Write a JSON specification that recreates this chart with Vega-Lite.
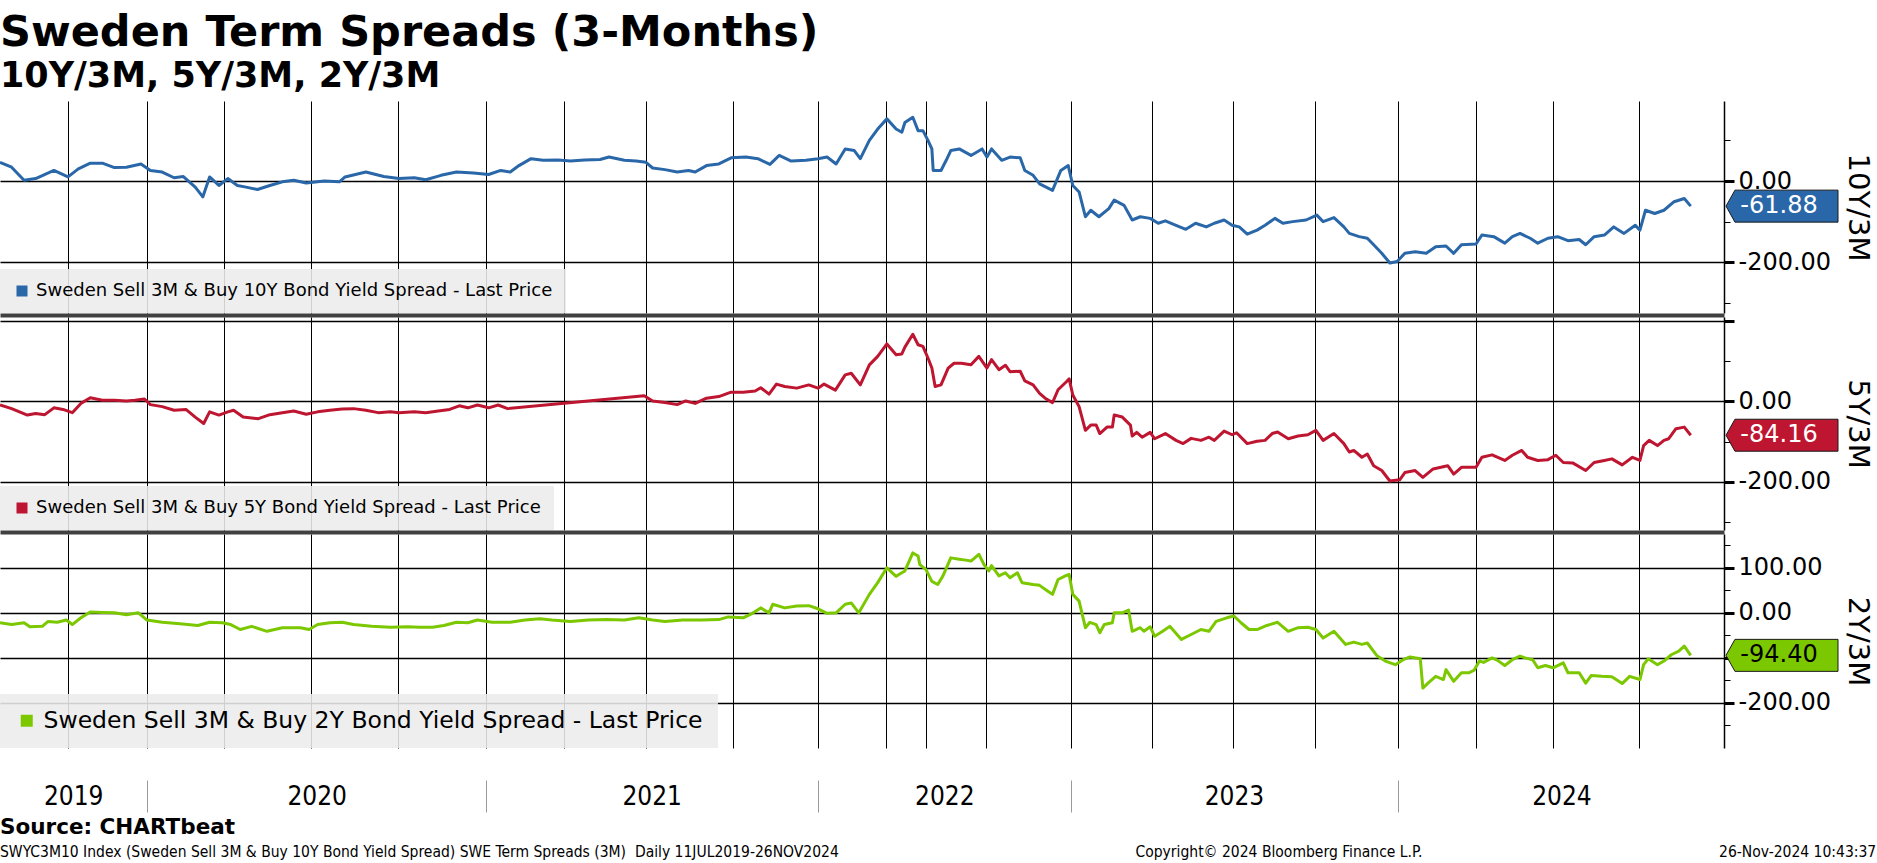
{
"$schema": "https://vega.github.io/schema/vega-lite/v6.json",
"background": "white",
"padding": {"top": 12, "left": 0, "right": 0, "bottom": 0},
"title": {"text": "Sweden Term Spreads (3-Months)", "subtitle": "10Y/3M, 5Y/3M, 2Y/3M", "anchor": "start", "frame": "group", "font": "DejaVu Sans", "fontSize": 43, "fontWeight": "bold", "color": "#000", "subtitleFont": "DejaVu Sans", "subtitleFontSize": 35, "subtitleFontWeight": "bold", "subtitleColor": "#000", "subtitlePadding": 4, "offset": 7},
"datasets": {
"y10": [{"date":"2019-07-11","value":46},{"date":"2019-07-25","value":34},{"date":"2019-08-09","value":2},{"date":"2019-08-23","value":6},{"date":"2019-09-14","value":26},{"date":"2019-10-01","value":10},{"date":"2019-10-13","value":30},{"date":"2019-10-27","value":44},{"date":"2019-11-10","value":44},{"date":"2019-11-24","value":33},{"date":"2019-12-08","value":34},{"date":"2019-12-25","value":42},{"date":"2020-01-05","value":26},{"date":"2020-01-19","value":22},{"date":"2020-02-02","value":8},{"date":"2020-02-13","value":11},{"date":"2020-02-27","value":-15},{"date":"2020-03-07","value":-39},{"date":"2020-03-15","value":10},{"date":"2020-03-26","value":-11},{"date":"2020-04-05","value":6},{"date":"2020-04-15","value":-11},{"date":"2020-04-24","value":-15},{"date":"2020-05-06","value":-21},{"date":"2020-05-19","value":-11},{"date":"2020-06-01","value":-2},{"date":"2020-06-13","value":2},{"date":"2020-06-26","value":-5},{"date":"2020-07-15","value":0},{"date":"2020-07-31","value":-2},{"date":"2020-08-06","value":10},{"date":"2020-08-28","value":22},{"date":"2020-09-16","value":11},{"date":"2020-10-02","value":6},{"date":"2020-10-18","value":8},{"date":"2020-10-30","value":3},{"date":"2020-11-15","value":14},{"date":"2020-12-01","value":22},{"date":"2020-12-19","value":20},{"date":"2021-01-04","value":16},{"date":"2021-01-18","value":26},{"date":"2021-01-29","value":22},{"date":"2021-02-08","value":38},{"date":"2021-02-22","value":55},{"date":"2021-03-08","value":51},{"date":"2021-03-25","value":52},{"date":"2021-04-08","value":49},{"date":"2021-04-24","value":52},{"date":"2021-05-11","value":53},{"date":"2021-05-21","value":59},{"date":"2021-06-07","value":51},{"date":"2021-06-20","value":49},{"date":"2021-07-01","value":46},{"date":"2021-07-08","value":32},{"date":"2021-07-21","value":28},{"date":"2021-08-03","value":22},{"date":"2021-08-15","value":26},{"date":"2021-08-22","value":22},{"date":"2021-09-03","value":38},{"date":"2021-09-16","value":42},{"date":"2021-09-29","value":57},{"date":"2021-10-15","value":59},{"date":"2021-10-28","value":55},{"date":"2021-11-10","value":41},{"date":"2021-11-20","value":63},{"date":"2021-12-03","value":49},{"date":"2021-12-19","value":51},{"date":"2022-01-01","value":55},{"date":"2022-01-13","value":59},{"date":"2022-01-25","value":42},{"date":"2022-02-06","value":79},{"date":"2022-02-18","value":75},{"date":"2022-02-26","value":55},{"date":"2022-03-10","value":100},{"date":"2022-03-21","value":128},{"date":"2022-04-03","value":153},{"date":"2022-04-24","value":128},{"date":"2022-05-07","value":120},{"date":"2022-05-14","value":144},{"date":"2022-06-01","value":157},{"date":"2022-06-13","value":124},{"date":"2022-06-24","value":124},{"date":"2022-07-04","value":100},{"date":"2022-07-10","value":79},{"date":"2022-07-12","value":26},{"date":"2022-07-24","value":26},{"date":"2022-08-01","value":51},{"date":"2022-08-08","value":75},{"date":"2022-08-21","value":79},{"date":"2022-09-08","value":63},{"date":"2022-09-25","value":79},{"date":"2022-10-02","value":59},{"date":"2022-10-07","value":79},{"date":"2022-10-18","value":51},{"date":"2022-10-27","value":59},{"date":"2022-11-07","value":57},{"date":"2022-11-12","value":26},{"date":"2022-11-21","value":14},{"date":"2022-11-28","value":-7},{"date":"2022-12-12","value":-23},{"date":"2022-12-21","value":26},{"date":"2022-12-29","value":38},{"date":"2023-01-03","value":-11},{"date":"2023-01-10","value":-27},{"date":"2023-01-17","value":-88},{"date":"2023-01-23","value":-72},{"date":"2023-02-01","value":-88},{"date":"2023-02-12","value":-68},{"date":"2023-02-18","value":-47},{"date":"2023-03-01","value":-60},{"date":"2023-03-10","value":-96},{"date":"2023-03-19","value":-88},{"date":"2023-03-30","value":-92},{"date":"2023-04-08","value":-104},{"date":"2023-04-16","value":-98},{"date":"2023-04-28","value":-109},{"date":"2023-05-09","value":-119},{"date":"2023-05-20","value":-104},{"date":"2023-06-01","value":-113},{"date":"2023-06-10","value":-104},{"date":"2023-06-21","value":-96},{"date":"2023-06-30","value":-109},{"date":"2023-07-08","value":-113},{"date":"2023-07-17","value":-131},{"date":"2023-07-28","value":-121},{"date":"2023-08-06","value":-109},{"date":"2023-08-17","value":-92},{"date":"2023-08-26","value":-104},{"date":"2023-09-06","value":-100},{"date":"2023-09-21","value":-96},{"date":"2023-10-03","value":-84},{"date":"2023-10-10","value":-100},{"date":"2023-10-22","value":-90},{"date":"2023-11-02","value":-113},{"date":"2023-11-08","value":-129},{"date":"2023-11-19","value":-137},{"date":"2023-11-28","value":-141},{"date":"2023-12-05","value":-157},{"date":"2023-12-14","value":-178},{"date":"2023-12-23","value":-202},{"date":"2023-12-31","value":-198},{"date":"2024-01-09","value":-178},{"date":"2024-01-21","value":-174},{"date":"2024-02-03","value":-178},{"date":"2024-02-14","value":-162},{"date":"2024-02-26","value":-160},{"date":"2024-03-06","value":-178},{"date":"2024-03-15","value":-157},{"date":"2024-04-01","value":-155},{"date":"2024-04-08","value":-133},{"date":"2024-04-22","value":-137},{"date":"2024-05-05","value":-153},{"date":"2024-05-14","value":-137},{"date":"2024-05-23","value":-129},{"date":"2024-06-04","value":-141},{"date":"2024-06-13","value":-153},{"date":"2024-06-25","value":-141},{"date":"2024-07-06","value":-137},{"date":"2024-07-17","value":-147},{"date":"2024-07-29","value":-144},{"date":"2024-08-05","value":-157},{"date":"2024-08-14","value":-137},{"date":"2024-08-25","value":-133},{"date":"2024-09-04","value":-113},{"date":"2024-09-15","value":-129},{"date":"2024-09-27","value":-109},{"date":"2024-10-02","value":-121},{"date":"2024-10-08","value":-72},{"date":"2024-10-18","value":-80},{"date":"2024-10-28","value":-72},{"date":"2024-11-08","value":-51},{"date":"2024-11-19","value":-43},{"date":"2024-11-26","value":-61.88}],
"y5": [{"date":"2019-07-11","value":-9},{"date":"2019-07-25","value":-18},{"date":"2019-08-13","value":-34},{"date":"2019-08-23","value":-30},{"date":"2019-09-03","value":-33},{"date":"2019-09-14","value":-16},{"date":"2019-09-25","value":-20},{"date":"2019-10-06","value":-28},{"date":"2019-10-16","value":-5},{"date":"2019-10-27","value":9},{"date":"2019-11-10","value":3},{"date":"2019-11-24","value":3},{"date":"2019-12-08","value":1},{"date":"2019-12-18","value":3},{"date":"2019-12-29","value":6},{"date":"2020-01-05","value":-8},{"date":"2020-01-19","value":-13},{"date":"2020-02-02","value":-22},{"date":"2020-02-16","value":-20},{"date":"2020-02-27","value":-39},{"date":"2020-03-08","value":-55},{"date":"2020-03-15","value":-26},{"date":"2020-03-26","value":-34},{"date":"2020-04-05","value":-26},{"date":"2020-04-11","value":-22},{"date":"2020-04-21","value":-39},{"date":"2020-05-07","value":-43},{"date":"2020-05-19","value":-33},{"date":"2020-06-01","value":-28},{"date":"2020-06-13","value":-24},{"date":"2020-06-26","value":-32},{"date":"2020-07-08","value":-26},{"date":"2020-07-21","value":-22},{"date":"2020-08-03","value":-19},{"date":"2020-08-15","value":-18},{"date":"2020-08-28","value":-22},{"date":"2020-09-10","value":-28},{"date":"2020-09-23","value":-26},{"date":"2020-10-02","value":-28},{"date":"2020-10-18","value":-26},{"date":"2020-10-30","value":-28},{"date":"2020-11-12","value":-24},{"date":"2020-11-24","value":-20},{"date":"2020-12-04","value":-11},{"date":"2020-12-13","value":-16},{"date":"2020-12-23","value":-9},{"date":"2021-01-04","value":-16},{"date":"2021-01-15","value":-9},{"date":"2021-01-26","value":-18},{"date":"2021-06-29","value":14},{"date":"2021-07-08","value":1},{"date":"2021-07-21","value":-3},{"date":"2021-08-03","value":-8},{"date":"2021-08-12","value":1},{"date":"2021-08-22","value":-5},{"date":"2021-09-03","value":8},{"date":"2021-09-16","value":12},{"date":"2021-09-29","value":23},{"date":"2021-10-12","value":23},{"date":"2021-10-25","value":26},{"date":"2021-10-31","value":34},{"date":"2021-11-09","value":18},{"date":"2021-11-17","value":43},{"date":"2021-11-26","value":37},{"date":"2021-12-09","value":33},{"date":"2021-12-22","value":41},{"date":"2022-01-01","value":33},{"date":"2022-01-09","value":43},{"date":"2022-01-24","value":28},{"date":"2022-02-06","value":66},{"date":"2022-02-14","value":70},{"date":"2022-02-26","value":41},{"date":"2022-03-10","value":91},{"date":"2022-03-21","value":112},{"date":"2022-04-03","value":143},{"date":"2022-04-24","value":116},{"date":"2022-05-07","value":118},{"date":"2022-05-14","value":135},{"date":"2022-06-01","value":167},{"date":"2022-06-13","value":141},{"date":"2022-06-24","value":137},{"date":"2022-07-04","value":108},{"date":"2022-07-10","value":83},{"date":"2022-07-15","value":37},{"date":"2022-07-24","value":41},{"date":"2022-08-04","value":83},{"date":"2022-08-13","value":95},{"date":"2022-08-24","value":95},{"date":"2022-09-08","value":91},{"date":"2022-09-20","value":112},{"date":"2022-10-02","value":83},{"date":"2022-10-07","value":104},{"date":"2022-10-15","value":79},{"date":"2022-10-22","value":90},{"date":"2022-10-27","value":74},{"date":"2022-11-07","value":75},{"date":"2022-11-12","value":51},{"date":"2022-11-21","value":41},{"date":"2022-11-28","value":20},{"date":"2022-12-04","value":8},{"date":"2022-12-12","value":-3},{"date":"2022-12-18","value":29},{"date":"2022-12-27","value":49},{"date":"2022-12-30","value":56},{"date":"2023-01-03","value":16},{"date":"2023-01-10","value":-13},{"date":"2023-01-17","value":-72},{"date":"2023-01-23","value":-59},{"date":"2023-01-29","value":-59},{"date":"2023-02-02","value":-80},{"date":"2023-02-10","value":-64},{"date":"2023-02-16","value":-64},{"date":"2023-02-18","value":-34},{"date":"2023-02-27","value":-39},{"date":"2023-03-08","value":-59},{"date":"2023-03-10","value":-86},{"date":"2023-03-15","value":-77},{"date":"2023-03-21","value":-89},{"date":"2023-03-30","value":-77},{"date":"2023-04-04","value":-93},{"date":"2023-04-16","value":-80},{"date":"2023-04-28","value":-97},{"date":"2023-05-06","value":-105},{"date":"2023-05-15","value":-92},{"date":"2023-05-26","value":-97},{"date":"2023-06-04","value":-89},{"date":"2023-06-10","value":-97},{"date":"2023-06-21","value":-74},{"date":"2023-06-30","value":-83},{"date":"2023-07-05","value":-78},{"date":"2023-07-17","value":-105},{"date":"2023-07-28","value":-99},{"date":"2023-08-06","value":-97},{"date":"2023-08-14","value":-80},{"date":"2023-08-20","value":-76},{"date":"2023-09-01","value":-93},{"date":"2023-09-12","value":-86},{"date":"2023-09-23","value":-83},{"date":"2023-10-02","value":-72},{"date":"2023-10-10","value":-97},{"date":"2023-10-22","value":-80},{"date":"2023-11-02","value":-105},{"date":"2023-11-08","value":-126},{"date":"2023-11-13","value":-122},{"date":"2023-11-22","value":-139},{"date":"2023-11-28","value":-131},{"date":"2023-12-05","value":-160},{"date":"2023-12-14","value":-172},{"date":"2023-12-23","value":-198},{"date":"2024-01-03","value":-195},{"date":"2024-01-09","value":-177},{"date":"2024-01-21","value":-172},{"date":"2024-01-30","value":-189},{"date":"2024-02-11","value":-168},{"date":"2024-02-20","value":-164},{"date":"2024-02-28","value":-160},{"date":"2024-03-06","value":-181},{"date":"2024-03-15","value":-164},{"date":"2024-04-01","value":-164},{"date":"2024-04-08","value":-139},{"date":"2024-04-20","value":-133},{"date":"2024-05-05","value":-147},{"date":"2024-05-14","value":-134},{"date":"2024-05-25","value":-122},{"date":"2024-06-01","value":-139},{"date":"2024-06-13","value":-147},{"date":"2024-06-25","value":-145},{"date":"2024-07-04","value":-134},{"date":"2024-07-12","value":-152},{"date":"2024-07-22","value":-153},{"date":"2024-08-05","value":-172},{"date":"2024-08-14","value":-152},{"date":"2024-08-25","value":-147},{"date":"2024-09-02","value":-143},{"date":"2024-09-13","value":-158},{"date":"2024-09-24","value":-139},{"date":"2024-10-02","value":-147},{"date":"2024-10-06","value":-110},{"date":"2024-10-12","value":-97},{"date":"2024-10-21","value":-110},{"date":"2024-10-28","value":-97},{"date":"2024-11-02","value":-93},{"date":"2024-11-10","value":-68},{"date":"2024-11-19","value":-64},{"date":"2024-11-26","value":-84.16}],
"y2": [{"date":"2019-07-11","value":-22},{"date":"2019-07-25","value":-26},{"date":"2019-08-09","value":-22},{"date":"2019-08-16","value":-31},{"date":"2019-08-31","value":-30},{"date":"2019-09-07","value":-19},{"date":"2019-09-18","value":-21},{"date":"2019-09-29","value":-16},{"date":"2019-10-06","value":-26},{"date":"2019-10-16","value":-11},{"date":"2019-10-27","value":2},{"date":"2019-11-10","value":1},{"date":"2019-11-24","value":0},{"date":"2019-12-08","value":-4},{"date":"2019-12-22","value":0},{"date":"2020-01-01","value":-16},{"date":"2020-01-19","value":-21},{"date":"2020-02-09","value":-24},{"date":"2020-03-01","value":-28},{"date":"2020-03-15","value":-21},{"date":"2020-03-30","value":-22},{"date":"2020-04-08","value":-26},{"date":"2020-04-18","value":-37},{"date":"2020-04-30","value":-30},{"date":"2020-05-16","value":-41},{"date":"2020-06-01","value":-33},{"date":"2020-06-20","value":-33},{"date":"2020-06-29","value":-37},{"date":"2020-07-08","value":-26},{"date":"2020-07-21","value":-22},{"date":"2020-08-03","value":-21},{"date":"2020-08-15","value":-26},{"date":"2020-09-03","value":-30},{"date":"2020-09-23","value":-32},{"date":"2020-10-11","value":-31},{"date":"2020-10-24","value":-32},{"date":"2020-11-06","value":-32},{"date":"2020-11-18","value":-28},{"date":"2020-12-01","value":-21},{"date":"2020-12-13","value":-22},{"date":"2020-12-23","value":-16},{"date":"2021-01-08","value":-21},{"date":"2021-01-29","value":-21},{"date":"2021-02-15","value":-16},{"date":"2021-03-04","value":-13},{"date":"2021-03-18","value":-16},{"date":"2021-04-08","value":-19},{"date":"2021-04-28","value":-16},{"date":"2021-05-18","value":-15},{"date":"2021-06-07","value":-16},{"date":"2021-06-23","value":-11},{"date":"2021-07-08","value":-16},{"date":"2021-07-21","value":-19},{"date":"2021-08-09","value":-16},{"date":"2021-08-28","value":-16},{"date":"2021-09-16","value":-15},{"date":"2021-09-26","value":-9},{"date":"2021-10-12","value":-11},{"date":"2021-10-22","value":-1},{"date":"2021-10-31","value":11},{"date":"2021-11-09","value":0},{"date":"2021-11-13","value":19},{"date":"2021-11-26","value":11},{"date":"2021-12-09","value":15},{"date":"2021-12-22","value":16},{"date":"2022-01-01","value":9},{"date":"2022-01-13","value":-1},{"date":"2022-01-25","value":0},{"date":"2022-02-06","value":19},{"date":"2022-02-14","value":22},{"date":"2022-02-24","value":0},{"date":"2022-03-10","value":41},{"date":"2022-03-21","value":67},{"date":"2022-04-03","value":100},{"date":"2022-04-24","value":81},{"date":"2022-05-07","value":89},{"date":"2022-05-14","value":93},{"date":"2022-06-01","value":133},{"date":"2022-06-13","value":126},{"date":"2022-06-17","value":107},{"date":"2022-07-01","value":96},{"date":"2022-07-10","value":70},{"date":"2022-07-19","value":63},{"date":"2022-07-27","value":82},{"date":"2022-08-08","value":122},{"date":"2022-08-21","value":119},{"date":"2022-08-31","value":117},{"date":"2022-09-08","value":115},{"date":"2022-09-20","value":130},{"date":"2022-09-28","value":107},{"date":"2022-10-04","value":93},{"date":"2022-10-07","value":105},{"date":"2022-10-15","value":82},{"date":"2022-10-22","value":89},{"date":"2022-10-27","value":78},{"date":"2022-11-04","value":89},{"date":"2022-11-09","value":67},{"date":"2022-11-21","value":63},{"date":"2022-11-28","value":61},{"date":"2022-12-07","value":48},{"date":"2022-12-12","value":41},{"date":"2022-12-18","value":74},{"date":"2022-12-27","value":83},{"date":"2022-12-30","value":85},{"date":"2023-01-03","value":41},{"date":"2023-01-10","value":26},{"date":"2023-01-17","value":-33},{"date":"2023-01-22","value":-21},{"date":"2023-01-29","value":-26},{"date":"2023-02-02","value":-44},{"date":"2023-02-07","value":-26},{"date":"2023-02-16","value":-22},{"date":"2023-02-18","value":0},{"date":"2023-02-27","value":0},{"date":"2023-03-06","value":6},{"date":"2023-03-10","value":-41},{"date":"2023-03-19","value":-33},{"date":"2023-03-23","value":-41},{"date":"2023-03-30","value":-31},{"date":"2023-04-04","value":-52},{"date":"2023-04-13","value":-41},{"date":"2023-04-21","value":-30},{"date":"2023-05-04","value":-59},{"date":"2023-05-15","value":-48},{"date":"2023-05-26","value":-37},{"date":"2023-06-04","value":-41},{"date":"2023-06-12","value":-19},{"date":"2023-06-24","value":-11},{"date":"2023-07-02","value":-7},{"date":"2023-07-10","value":-22},{"date":"2023-07-19","value":-37},{"date":"2023-07-28","value":-37},{"date":"2023-08-08","value":-28},{"date":"2023-08-20","value":-21},{"date":"2023-09-01","value":-41},{"date":"2023-09-12","value":-33},{"date":"2023-09-23","value":-32},{"date":"2023-10-02","value":-37},{"date":"2023-10-10","value":-56},{"date":"2023-10-22","value":-41},{"date":"2023-11-04","value":-70},{"date":"2023-11-13","value":-65},{"date":"2023-11-22","value":-70},{"date":"2023-11-28","value":-67},{"date":"2023-12-09","value":-96},{"date":"2023-12-18","value":-107},{"date":"2023-12-29","value":-115},{"date":"2024-01-07","value":-104},{"date":"2024-01-15","value":-98},{"date":"2024-01-27","value":-102},{"date":"2024-01-30","value":-167},{"date":"2024-02-05","value":-156},{"date":"2024-02-14","value":-141},{"date":"2024-02-23","value":-148},{"date":"2024-02-26","value":-126},{"date":"2024-03-06","value":-152},{"date":"2024-03-15","value":-133},{"date":"2024-03-24","value":-133},{"date":"2024-03-30","value":-127},{"date":"2024-04-05","value":-107},{"date":"2024-04-10","value":-110},{"date":"2024-04-20","value":-100},{"date":"2024-04-26","value":-105},{"date":"2024-05-05","value":-117},{"date":"2024-05-14","value":-104},{"date":"2024-05-23","value":-96},{"date":"2024-05-29","value":-100},{"date":"2024-06-07","value":-104},{"date":"2024-06-13","value":-122},{"date":"2024-06-22","value":-117},{"date":"2024-07-01","value":-122},{"date":"2024-07-12","value":-111},{"date":"2024-07-17","value":-133},{"date":"2024-07-29","value":-133},{"date":"2024-08-05","value":-156},{"date":"2024-08-11","value":-139},{"date":"2024-08-22","value":-141},{"date":"2024-09-02","value":-142},{"date":"2024-09-13","value":-157},{"date":"2024-09-21","value":-141},{"date":"2024-10-02","value":-148},{"date":"2024-10-06","value":-115},{"date":"2024-10-11","value":-102},{"date":"2024-10-21","value":-115},{"date":"2024-10-28","value":-107},{"date":"2024-11-05","value":-93},{"date":"2024-11-13","value":-85},{"date":"2024-11-19","value":-74},{"date":"2024-11-26","value":-94.40}]
},
"spacing": 4,
"bounds": "flush",
"resolve": {"scale": {"x": "independent", "y": "independent", "color": "independent"}, "legend": {"color": "independent"}},
"vconcat": [
{
"width": 1724, "height": 212,
"data": {"name": "y10"},
"layer": [
{"mark": {"type": "line", "strokeWidth": 3, "clip": true, "strokeJoin": "round"},
 "encoding": {
  "x": {"field": "date", "type": "temporal",
   "scale": {"type": "utc", "nice": false, "domain": [{"year":2019,"month":7,"date":11,"utc":true},{"year":2025,"month":1,"date":1,"utc":true}],
    "domainRaw": {"expr": "[utc(2019,6,11), utc(2019,9,1), utc(2020,0,1), utc(2020,3,1), utc(2020,6,1), utc(2020,9,1), utc(2021,0,1), utc(2021,3,1), utc(2021,6,1), utc(2021,9,1), utc(2022,0,1), utc(2022,3,1), utc(2022,6,1), utc(2022,9,1), utc(2023,0,1), utc(2023,3,1), utc(2023,6,1), utc(2023,9,1), utc(2024,0,1), utc(2024,3,1), utc(2024,6,1), utc(2024,9,1), utc(2025,0,1)]"},
    "range": [0,68,147,224,311,398,486,564,646,733,818,886,926,986,1071,1152,1233,1315,1398,1476,1553,1639,1724]},
   "axis": {"orient": "bottom", "values": [{"year":2019,"month":10,"date":1,"utc":true},{"year":2020,"month":1,"date":1,"utc":true},{"year":2020,"month":4,"date":1,"utc":true},{"year":2020,"month":7,"date":1,"utc":true},{"year":2020,"month":10,"date":1,"utc":true},{"year":2021,"month":1,"date":1,"utc":true},{"year":2021,"month":4,"date":1,"utc":true},{"year":2021,"month":7,"date":1,"utc":true},{"year":2021,"month":10,"date":1,"utc":true},{"year":2022,"month":1,"date":1,"utc":true},{"year":2022,"month":4,"date":1,"utc":true},{"year":2022,"month":7,"date":1,"utc":true},{"year":2022,"month":10,"date":1,"utc":true},{"year":2023,"month":1,"date":1,"utc":true},{"year":2023,"month":4,"date":1,"utc":true},{"year":2023,"month":7,"date":1,"utc":true},{"year":2023,"month":10,"date":1,"utc":true},{"year":2024,"month":1,"date":1,"utc":true},{"year":2024,"month":4,"date":1,"utc":true},{"year":2024,"month":7,"date":1,"utc":true},{"year":2024,"month":10,"date":1,"utc":true}],
    "grid": true, "gridColor": "#000", "gridWidth": 1, "ticks": false, "labels": false, "domain": true, "domainColor": "#404040", "domainWidth": 4, "offset": 2, "title": null}},
  "y": {"field": "value", "type": "quantitative", "scale": {"domain": [-325, 197], "nice": false, "zero": false},
   "axis": {"orient": "right", "values": [200, 0, -200], "labelExpr": "datum.value >= 175 ? '' : replace(format(datum.value, '.2f'), '\u2212', '-')", "grid": true, "gridColor": "#000", "gridWidth": 1.5, "ticks": true, "tickSize": 10, "tickWidth": 3, "tickColor": "#000", "domain": true, "domainColor": "#000", "domainWidth": 1.5, "labelFont": "DejaVu Sans", "labelFontSize": 24, "labelPadding": 4, "labelColor": "#000", "labelOverlap": false, "labelFlush": false, "title": "10Y/3M", "titleAngle": 90, "titleFont": "DejaVu Sans", "titleFontSize": 29, "titleFontWeight": "normal", "titleColor": "#000", "titlePadding": 12}},
  "color": {"datum": "Sweden Sell 3M & Buy 10Y Bond Yield Spread - Last Price", "type": "nominal", "scale": {"range": ["#2a67a9"]},
   "legend": {"title": null, "orient": "bottom-left", "offset": 0, "padding": 13, "fillColor": "rgba(236,236,236,0.88)", "strokeColor": null, "cornerRadius": 0, "symbolType": "square", "symbolSize": 121, "symbolFillColor": "#2a67a9", "symbolStrokeWidth": 0, "labelFont": "DejaVu Sans", "labelFontSize": 18, "labelColor": "#000", "labelLimit": 2000, "labelOffset": 5,
    "encode": {"symbols": {"update": {"fill": {"value": "#2a67a9"}, "strokeWidth": {"value": 0}}}}}}
 }},
{"transform": [{"window": [{"op": "row_number", "as": "rn"}], "sort": [{"field": "date", "order": "descending"}]}, {"filter": "datum.rn == 1"}],
 "mark": {"type": "point", "shape": "M-1,0L-0.84,-0.2857L1,-0.2857L1,0.2857L-0.84,0.2857Z", "size": 12544, "filled": true, "fill": "#2a67a9", "stroke": "#1a1a1a", "strokeWidth": 1, "opacity": 1, "xOffset": 58},
 "encoding": {"x": {"value": "width"}, "y": {"field": "value", "type": "quantitative",
   "axis": {"orient": "right", "values": [100, -100, -300], "labels": false, "grid": false, "domain": false, "ticks": true, "tickSize": 6, "tickWidth": 1, "tickColor": "#000", "title": null}}}},
{"transform": [{"window": [{"op": "row_number", "as": "rn"}], "sort": [{"field": "date", "order": "descending"}]}, {"filter": "datum.rn == 1"}, {"calculate": "replace(format(datum.value, '.2f'), '\u2212', '-')", "as": "label"}],
 "mark": {"type": "text", "xOffset": 55, "font": "DejaVu Sans", "fontSize": 24, "color": "#ffffff", "align": "center", "baseline": "middle"},
 "encoding": {"x": {"value": "width"}, "y": {"field": "value", "type": "quantitative", "axis": null}, "text": {"field": "label"}}}
],
"resolve": {"axis": {"y": "independent"}}
},
{
"width": 1724, "height": 213,
"data": {"name": "y5"},
"layer": [
{"mark": {"type": "line", "strokeWidth": 3, "clip": true, "strokeJoin": "round"},
 "encoding": {
  "x": {"field": "date", "type": "temporal",
   "scale": {"type": "utc", "nice": false, "domain": [{"year":2019,"month":7,"date":11,"utc":true},{"year":2025,"month":1,"date":1,"utc":true}],
    "domainRaw": {"expr": "[utc(2019,6,11), utc(2019,9,1), utc(2020,0,1), utc(2020,3,1), utc(2020,6,1), utc(2020,9,1), utc(2021,0,1), utc(2021,3,1), utc(2021,6,1), utc(2021,9,1), utc(2022,0,1), utc(2022,3,1), utc(2022,6,1), utc(2022,9,1), utc(2023,0,1), utc(2023,3,1), utc(2023,6,1), utc(2023,9,1), utc(2024,0,1), utc(2024,3,1), utc(2024,6,1), utc(2024,9,1), utc(2025,0,1)]"},
    "range": [0,68,147,224,311,398,486,564,646,733,818,886,926,986,1071,1152,1233,1315,1398,1476,1553,1639,1724]},
   "axis": {"orient": "bottom", "values": [{"year":2019,"month":10,"date":1,"utc":true},{"year":2020,"month":1,"date":1,"utc":true},{"year":2020,"month":4,"date":1,"utc":true},{"year":2020,"month":7,"date":1,"utc":true},{"year":2020,"month":10,"date":1,"utc":true},{"year":2021,"month":1,"date":1,"utc":true},{"year":2021,"month":4,"date":1,"utc":true},{"year":2021,"month":7,"date":1,"utc":true},{"year":2021,"month":10,"date":1,"utc":true},{"year":2022,"month":1,"date":1,"utc":true},{"year":2022,"month":4,"date":1,"utc":true},{"year":2022,"month":7,"date":1,"utc":true},{"year":2022,"month":10,"date":1,"utc":true},{"year":2023,"month":1,"date":1,"utc":true},{"year":2023,"month":4,"date":1,"utc":true},{"year":2023,"month":7,"date":1,"utc":true},{"year":2023,"month":10,"date":1,"utc":true},{"year":2024,"month":1,"date":1,"utc":true},{"year":2024,"month":4,"date":1,"utc":true},{"year":2024,"month":7,"date":1,"utc":true},{"year":2024,"month":10,"date":1,"utc":true}],
    "grid": true, "gridColor": "#000", "gridWidth": 1, "ticks": false, "labels": false, "domain": true, "domainColor": "#404040", "domainWidth": 4, "offset": 2, "title": null}},
  "y": {"field": "value", "type": "quantitative", "scale": {"domain": [-320, 210], "nice": false, "zero": false},
   "axis": {"orient": "right", "values": [200, 0, -200], "labelExpr": "datum.value >= 175 ? '' : replace(format(datum.value, '.2f'), '\u2212', '-')", "grid": true, "gridColor": "#000", "gridWidth": 1.5, "ticks": true, "tickSize": 10, "tickWidth": 3, "tickColor": "#000", "domain": true, "domainColor": "#000", "domainWidth": 1.5, "labelFont": "DejaVu Sans", "labelFontSize": 24, "labelPadding": 4, "labelColor": "#000", "labelOverlap": false, "labelFlush": false, "title": "5Y/3M", "titleAngle": 90, "titleFont": "DejaVu Sans", "titleFontSize": 29, "titleFontWeight": "normal", "titleColor": "#000", "titlePadding": 12}},
  "color": {"datum": "Sweden Sell 3M & Buy 5Y Bond Yield Spread - Last Price", "type": "nominal", "scale": {"range": ["#be1530"]},
   "legend": {"title": null, "orient": "bottom-left", "offset": 0, "padding": 13, "fillColor": "rgba(236,236,236,0.88)", "strokeColor": null, "cornerRadius": 0, "symbolType": "square", "symbolSize": 121, "symbolFillColor": "#be1530", "symbolStrokeWidth": 0, "labelFont": "DejaVu Sans", "labelFontSize": 18, "labelColor": "#000", "labelLimit": 2000, "labelOffset": 5,
    "encode": {"symbols": {"update": {"fill": {"value": "#be1530"}, "strokeWidth": {"value": 0}}}}}}
 }},
{"transform": [{"window": [{"op": "row_number", "as": "rn"}], "sort": [{"field": "date", "order": "descending"}]}, {"filter": "datum.rn == 1"}],
 "mark": {"type": "point", "shape": "M-1,0L-0.84,-0.2857L1,-0.2857L1,0.2857L-0.84,0.2857Z", "size": 12544, "filled": true, "fill": "#be1530", "stroke": "#1a1a1a", "strokeWidth": 1, "opacity": 1, "xOffset": 58},
 "encoding": {"x": {"value": "width"}, "y": {"field": "value", "type": "quantitative",
   "axis": {"orient": "right", "values": [100, -100, -300], "labels": false, "grid": false, "domain": false, "ticks": true, "tickSize": 6, "tickWidth": 1, "tickColor": "#000", "title": null}}}},
{"transform": [{"window": [{"op": "row_number", "as": "rn"}], "sort": [{"field": "date", "order": "descending"}]}, {"filter": "datum.rn == 1"}, {"calculate": "replace(format(datum.value, '.2f'), '\u2212', '-')", "as": "label"}],
 "mark": {"type": "text", "xOffset": 55, "font": "DejaVu Sans", "fontSize": 24, "color": "#ffffff", "align": "center", "baseline": "middle"},
 "encoding": {"x": {"value": "width"}, "y": {"field": "value", "type": "quantitative", "axis": null}, "text": {"field": "label"}}}
],
"resolve": {"axis": {"y": "independent"}}
},
{
"width": 1724, "height": 214,
"data": {"name": "y2"},
"title": {"text": "Source: CHARTbeat", "subtitle": "SWYC3M10 Index (Sweden Sell 3M & Buy 10Y Bond Yield Spread) SWE Term Spreads (3M)\u00a0\u00a0Daily 11JUL2019-26NOV2024\u00a0\u00a0\u00a0\u00a0\u00a0\u00a0\u00a0\u00a0\u00a0\u00a0\u00a0\u00a0\u00a0\u00a0\u00a0\u00a0\u00a0\u00a0\u00a0\u00a0\u00a0\u00a0\u00a0\u00a0\u00a0\u00a0\u00a0\u00a0\u00a0\u00a0\u00a0\u00a0\u00a0\u00a0\u00a0\u00a0\u00a0\u00a0\u00a0\u00a0\u00a0\u00a0\u00a0\u00a0\u00a0\u00a0\u00a0\u00a0\u00a0\u00a0\u00a0\u00a0\u00a0\u00a0\u00a0\u00a0\u00a0\u00a0\u00a0\u00a0\u00a0\u00a0\u00a0\u00a0\u00a0\u00a0\u00a0Copyright\u00a9 2024 Bloomberg Finance L.P.\u00a0\u00a0\u00a0\u00a0\u00a0\u00a0\u00a0\u00a0\u00a0\u00a0\u00a0\u00a0\u00a0\u00a0\u00a0\u00a0\u00a0\u00a0\u00a0\u00a0\u00a0\u00a0\u00a0\u00a0\u00a0\u00a0\u00a0\u00a0\u00a0\u00a0\u00a0\u00a0\u00a0\u00a0\u00a0\u00a0\u00a0\u00a0\u00a0\u00a0\u00a0\u00a0\u00a0\u00a0\u00a0\u00a0\u00a0\u00a0\u00a0\u00a0\u00a0\u00a0\u00a0\u00a0\u00a0\u00a0\u00a0\u00a0\u00a0\u00a0\u00a0\u00a0\u00a0\u00a0\u00a0\u00a0\u00a026-Nov-2024 10:43:37", "orient": "bottom", "anchor": "start", "frame": "group", "font": "DejaVu Sans", "fontSize": 21.5, "fontWeight": "bold", "color": "#000", "subtitleFont": "DejaVu Sans Condensed, DejaVu Sans", "subtitleFontSize": 15.5, "subtitleFontWeight": "normal", "subtitleColor": "#000", "subtitlePadding": 7, "offset": 4},
"layer": [
{"mark": {"type": "line", "strokeWidth": 3, "clip": true, "strokeJoin": "round"},
 "encoding": {
  "x": {"field": "date", "type": "temporal",
   "scale": {"type": "utc", "nice": false, "domain": [{"year":2019,"month":7,"date":11,"utc":true},{"year":2025,"month":1,"date":1,"utc":true}],
    "domainRaw": {"expr": "[utc(2019,6,11), utc(2019,9,1), utc(2020,0,1), utc(2020,3,1), utc(2020,6,1), utc(2020,9,1), utc(2021,0,1), utc(2021,3,1), utc(2021,6,1), utc(2021,9,1), utc(2022,0,1), utc(2022,3,1), utc(2022,6,1), utc(2022,9,1), utc(2023,0,1), utc(2023,3,1), utc(2023,6,1), utc(2023,9,1), utc(2024,0,1), utc(2024,3,1), utc(2024,6,1), utc(2024,9,1), utc(2025,0,1)]"},
    "range": [0,68,147,224,311,398,486,564,646,733,818,886,926,986,1071,1152,1233,1315,1398,1476,1553,1639,1724]},
   "axis": {"orient": "bottom", "values": [{"year":2019,"month":10,"date":1,"utc":true},{"year":2020,"month":1,"date":1,"utc":true},{"year":2020,"month":4,"date":1,"utc":true},{"year":2020,"month":7,"date":1,"utc":true},{"year":2020,"month":10,"date":1,"utc":true},{"year":2021,"month":1,"date":1,"utc":true},{"year":2021,"month":4,"date":1,"utc":true},{"year":2021,"month":7,"date":1,"utc":true},{"year":2021,"month":10,"date":1,"utc":true},{"year":2022,"month":1,"date":1,"utc":true},{"year":2022,"month":4,"date":1,"utc":true},{"year":2022,"month":7,"date":1,"utc":true},{"year":2022,"month":10,"date":1,"utc":true},{"year":2023,"month":1,"date":1,"utc":true},{"year":2023,"month":4,"date":1,"utc":true},{"year":2023,"month":7,"date":1,"utc":true},{"year":2023,"month":10,"date":1,"utc":true},{"year":2024,"month":1,"date":1,"utc":true},{"year":2024,"month":4,"date":1,"utc":true},{"year":2024,"month":7,"date":1,"utc":true},{"year":2024,"month":10,"date":1,"utc":true},{"year":2019,"month":10,"date":7,"utc":true},{"year":2020,"month":7,"date":7,"utc":true},{"year":2021,"month":7,"date":7,"utc":true},{"year":2022,"month":7,"date":29,"utc":true},{"year":2023,"month":7,"date":2,"utc":true},{"year":2024,"month":7,"date":10,"utc":true}],
    "grid": true, "gridColor": "#000", "gridWidth": 1,
    "gridOpacity": {"condition": {"test": "utcdate(datum.value) == 1", "value": 1}, "value": 0},
    "ticks": true, "tickSize": 64, "tickColor": "#9a9a9a", "tickWidth": 1, "tickDash": [0, 32, 32, 0],
    "tickOpacity": {"condition": {"test": "utcdate(datum.value) == 1 && utcmonth(datum.value) == 0", "value": 1}, "value": 0},
    "labels": true, "labelExpr": "utcdate(datum.value) == 1 ? '' : utcFormat(datum.value, '%Y')", "labelFont": "DejaVu Sans Condensed, DejaVu Sans", "labelFontSize": 26, "labelBaseline": "middle", "labelPadding": -16, "labelOverlap": false, "labelFlush": false, "labelColor": "#000", "domain": false, "title": null}},
  "y": {"field": "value", "type": "quantitative", "scale": {"domain": [-300, 175], "nice": false, "zero": false},
   "axis": {"orient": "right", "values": [100, 0, -100, -200], "labelExpr": "(datum.value >= 175 || datum.value == -100) ? '' : replace(format(datum.value, '.2f'), '\u2212', '-')", "grid": true, "gridColor": "#000", "gridWidth": 1.5, "ticks": true, "tickSize": 10, "tickWidth": 3, "tickColor": "#000", "domain": true, "domainColor": "#000", "domainWidth": 1.5, "labelFont": "DejaVu Sans", "labelFontSize": 24, "labelPadding": 4, "labelColor": "#000", "labelOverlap": false, "labelFlush": false, "title": "2Y/3M", "titleAngle": 90, "titleFont": "DejaVu Sans", "titleFontSize": 29, "titleFontWeight": "normal", "titleColor": "#000", "titlePadding": 12}},
  "color": {"datum": "Sweden Sell 3M & Buy 2Y Bond Yield Spread - Last Price", "type": "nominal", "scale": {"range": ["#7cc800"]},
   "legend": {"title": null, "orient": "bottom-left", "offset": 0, "padding": 15, "fillColor": "rgba(236,236,236,0.88)", "strokeColor": null, "cornerRadius": 0, "symbolType": "square", "symbolSize": 144, "symbolFillColor": "#7cc800", "symbolStrokeWidth": 0, "labelFont": "DejaVu Sans", "labelFontSize": 23.5, "labelColor": "#000", "labelLimit": 2000, "labelOffset": 5,
    "encode": {"symbols": {"update": {"fill": {"value": "#7cc800"}, "strokeWidth": {"value": 0}}}}}}
 }},
{"transform": [{"window": [{"op": "row_number", "as": "rn"}], "sort": [{"field": "date", "order": "descending"}]}, {"filter": "datum.rn == 1"}],
 "mark": {"type": "point", "shape": "M-1,0L-0.84,-0.2857L1,-0.2857L1,0.2857L-0.84,0.2857Z", "size": 12544, "filled": true, "fill": "#7cc800", "stroke": "#1a1a1a", "strokeWidth": 1, "opacity": 1, "xOffset": 58},
 "encoding": {"x": {"value": "width"}, "y": {"field": "value", "type": "quantitative",
   "axis": {"orient": "right", "values": [150, 50, -50, -150, -250], "labels": false, "grid": false, "domain": false, "ticks": true, "tickSize": 6, "tickWidth": 1, "tickColor": "#000", "title": null}}}},
{"transform": [{"window": [{"op": "row_number", "as": "rn"}], "sort": [{"field": "date", "order": "descending"}]}, {"filter": "datum.rn == 1"}, {"calculate": "replace(format(datum.value, '.2f'), '\u2212', '-')", "as": "label"}],
 "mark": {"type": "text", "xOffset": 55, "font": "DejaVu Sans", "fontSize": 24, "color": "#000000", "align": "center", "baseline": "middle"},
 "encoding": {"x": {"value": "width"}, "y": {"field": "value", "type": "quantitative", "axis": null}, "text": {"field": "label"}}}
],
"resolve": {"axis": {"y": "independent"}}
}
],
"config": {"font": "DejaVu Sans", "view": {"stroke": null}, "axis": {"labelColor": "#000", "titleColor": "#000"}}
}
